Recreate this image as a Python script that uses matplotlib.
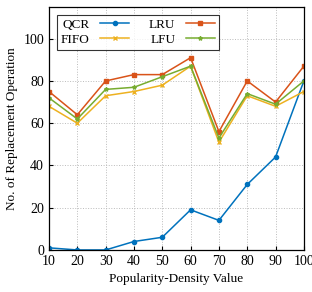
import matplotlib
matplotlib.use("Agg")
import matplotlib.pyplot as plt

x = [10, 20, 30, 40, 50, 60, 70, 80, 90, 100]
qcr = [1, 0, 0, 4, 6, 19, 14, 31, 44, 80]
lru = [75, 64, 80, 83, 83, 91, 56, 80, 70, 87]
fifo = [68, 60, 73, 75, 78, 87, 51, 73, 68, 75]
lfu = [72, 62, 76, 77, 82, 87, 53, 74, 69, 80]

plt.rcParams['font.family'] = ['Liberation Serif', 'DejaVu Serif']
plt.rcParams['mathtext.fontset'] = 'stix'

fig = plt.figure(figsize=(3.12, 2.92), dpi=100)
ax = fig.add_axes([0.157, 0.144, 0.817, 0.832])

ax.plot(x, qcr, color='#0072BD', marker='o', markersize=3, lw=1.1, label='QCR')
ax.plot(x, fifo, color='#EDB120', marker='x', markersize=3.5, lw=1.1, label='FIFO')
ax.plot(x, lru, color='#D95319', marker='s', markersize=3, lw=1.1, label='LRU')
ax.plot(x, lfu, color='#77AC30', marker='*', markersize=3, lw=1.1, label='LFU')

ax.set_xlim(10, 100)
ax.set_ylim(0, 115)
ax.set_xticks(x)
ax.set_yticks([0, 20, 40, 60, 80, 100])
ax.tick_params(labelsize=10, direction='in', length=3, color='black')
ax.grid(True, linestyle=':', color='#bbbbbb', lw=0.7)
for s in ax.spines.values():
    s.set_linewidth(0.9)
ax.set_xlabel('Popularity-Density Value', fontsize=9.5)
ax.set_ylabel('No. of Replacement Operation', fontsize=9.5)

leg = ax.legend(loc='upper left', ncol=2, fontsize=9.5, markerfirst=False,
                frameon=True, fancybox=False, edgecolor='black',
                handlelength=2.2, columnspacing=1.5, borderpad=0.3,
                labelspacing=0.2, bbox_to_anchor=(0.005, 0.995))
leg.get_frame().set_linewidth(0.8)

fig.savefig('out.png', dpi=100)
